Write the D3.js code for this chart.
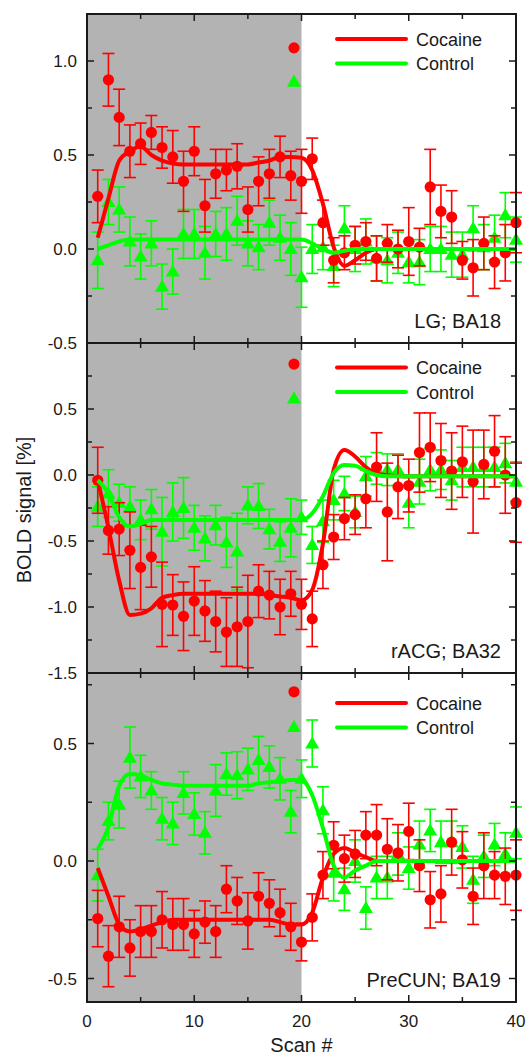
<!DOCTYPE html>
<html><head><meta charset="utf-8">
<script src="https://cdn.jsdelivr.net/npm/d3@7"></script>
<style>
html,body{margin:0;padding:0;background:#fff;}
svg{display:block;font-family:"Liberation Sans",Arial,Helvetica,sans-serif;}
</style></head>
<body><svg id="chart" width="529" height="1057"></svg>
<script>
// ---------- data ----------
const scans = d3.range(1, 41);
const xTicksMajor = [0, 10, 20, 30, 40];
const xTicksMinor = [5, 15, 25, 35];
const stimulusEnd = 20;
const seriesNames = ["Cocaine", "Control"];
const panelNames = ["LG; BA18", "rACG; BA32", "PreCUN; BA19"];
const yDomains = [[-0.5, 1.25], [-1.5, 1.0], [-0.6, 0.8]];
const yTickLabels = [[-0.5, 0.0, 0.5, 1.0], [-1.5, -1.0, -0.5, 0.0, 0.5], [-0.5, 0.0, 0.5]];

// Panel 1: LG; BA18
const p1Cocaine = [0.28,0.90,0.70,0.52,0.56,0.62,0.54,0.49,0.36,0.52,0.23,0.40,0.42,0.44,0.21,0.36,0.40,0.49,0.39,0.36,
  0.48,0.14,-0.06,-0.02,0.02,0.04,-0.05,0.03,0.00,0.04,0.01,0.33,0.20,0.17,-0.06,-0.10,0.03,-0.07,-0.02,0.14];
const p1CocaineErr = [0.14,0.14,0.15,0.14,0.11,0.09,0.11,0.14,0.16,0.13,0.14,0.13,0.11,0.12,0.12,0.13,0.13,0.11,0.13,0.17,
  0.11,0.12,0.12,0.09,0.10,0.10,0.12,0.10,0.10,0.18,0.10,0.20,0.14,0.14,0.10,0.15,0.14,0.14,0.15,0.16];
const p1Control = [-0.06,0.25,0.21,0.04,-0.04,0.03,-0.20,-0.12,0.08,0.08,-0.02,0.08,0.08,0.15,0.03,0.01,0.14,0.06,0.00,-0.15,
  0.00,0.01,-0.09,0.11,0.00,0.04,-0.05,-0.06,-0.02,-0.07,-0.07,0.00,0.00,-0.03,-0.03,0.11,0.01,0.06,0.18,0.05];
const p1ControlErr = [0.15,0.12,0.12,0.13,0.12,0.12,0.12,0.12,0.13,0.13,0.14,0.12,0.14,0.13,0.12,0.12,0.12,0.12,0.14,0.16,
  0.13,0.12,0.11,0.12,0.12,0.12,0.12,0.12,0.11,0.11,0.12,0.12,0.12,0.12,0.12,0.12,0.12,0.12,0.12,0.12];
const p1CocaineFit = [0.06,0.27,0.47,0.52,0.545,0.50,0.47,0.455,0.45,0.45,0.45,0.45,0.45,0.45,0.45,0.46,0.47,0.49,0.49,0.485,
  0.42,0.24,0.01,-0.09,-0.06,-0.02,0.0,0.0,0.0,0.0,0.0,0.0,0.0,0.0,0.0,0.0,0.0,0.0,0.0,0.0];
const p1ControlFit = [0.0,0.02,0.04,0.05,0.05,0.05,0.05,0.05,0.05,0.05,0.05,0.05,0.05,0.05,0.05,0.05,0.05,0.05,0.05,0.05,
  0.03,0.0,-0.02,-0.01,0.0,0.0,0.0,0.0,0.0,0.0,0.0,0.0,0.0,0.0,0.0,0.0,0.0,0.0,0.0,0.0];

// Panel 2: rACG; BA32
const p2Cocaine = [-0.04,-0.42,-0.41,-0.57,-0.70,-0.62,-0.98,-0.985,-1.07,-0.955,-1.03,-1.11,-1.19,-1.15,-1.11,-0.88,-0.91,-1.00,-0.90,-0.98,
  -1.09,-0.68,-0.47,-0.33,-0.30,-0.18,0.06,-0.28,-0.09,-0.08,0.17,0.21,0.11,0.03,0.10,-0.05,0.08,0.18,0.00,-0.21];
const p2CocaineErr = [0.25,0.18,0.20,0.29,0.32,0.23,0.32,0.23,0.26,0.26,0.23,0.23,0.26,0.30,0.35,0.20,0.18,0.21,0.17,0.19,
  0.21,0.18,0.17,0.16,0.15,0.22,0.26,0.37,0.24,0.20,0.30,0.26,0.28,0.29,0.27,0.39,0.26,0.27,0.29,0.30];
const p2Control = [-0.24,-0.14,-0.21,-0.24,-0.34,-0.26,-0.43,-0.28,-0.25,-0.40,-0.48,-0.38,-0.51,-0.58,-0.23,-0.235,-0.41,-0.505,-0.40,-0.32,
  -0.53,-0.35,-0.19,-0.14,-0.28,-0.01,0.05,0.04,0.04,-0.21,-0.05,0.04,0.04,-0.04,0.06,0.06,0.06,0.06,0.09,-0.05];
const p2ControlErr = [0.15,0.18,0.14,0.15,0.15,0.15,0.26,0.22,0.23,0.17,0.17,0.15,0.19,0.29,0.14,0.17,0.15,0.15,0.22,0.13,
  0.14,0.16,0.15,0.13,0.12,0.15,0.12,0.12,0.12,0.19,0.17,0.16,0.15,0.15,0.15,0.15,0.15,0.15,0.15,0.15];
const p2CocaineFit = [-0.04,-0.40,-0.80,-1.06,-1.05,-1.01,-0.93,-0.91,-0.90,-0.90,-0.90,-0.90,-0.90,-0.90,-0.90,-0.90,-0.91,-0.92,-0.93,-0.95,
  -0.87,-0.52,0.04,0.19,0.14,0.06,0.01,0.0,-0.01,-0.01,-0.01,-0.01,-0.01,-0.01,-0.01,-0.01,-0.01,-0.01,-0.01,-0.01];
const p2ControlFit = [-0.04,-0.14,-0.32,-0.39,-0.37,-0.34,-0.34,-0.34,-0.34,-0.34,-0.34,-0.34,-0.34,-0.34,-0.34,-0.34,-0.34,-0.34,-0.34,-0.34,
  -0.29,-0.16,0.015,0.075,0.07,0.03,0.0,-0.01,-0.01,-0.01,-0.01,-0.01,-0.01,-0.01,-0.01,-0.01,-0.01,-0.01,-0.01,-0.01];

// Panel 3: PreCUN; BA19
const p3Cocaine = [-0.245,-0.405,-0.28,-0.37,-0.30,-0.30,-0.25,-0.27,-0.27,-0.31,-0.26,-0.30,-0.12,-0.17,-0.255,-0.15,-0.18,-0.22,-0.28,-0.345,
  -0.24,-0.06,0.067,0.01,0.03,0.11,0.11,0.05,0.035,0.126,-0.02,-0.165,-0.14,0.08,0.005,-0.15,-0.02,-0.06,-0.065,-0.06];
const p3CocaineErr = [0.12,0.13,0.13,0.12,0.11,0.11,0.12,0.11,0.11,0.10,0.09,0.11,0.10,0.10,0.12,0.10,0.10,0.10,0.10,0.08,
  0.10,0.10,0.10,0.10,0.10,0.10,0.13,0.13,0.12,0.12,0.11,0.12,0.12,0.14,0.12,0.12,0.14,0.10,0.12,0.15];
const p3Control = [-0.06,0.17,0.24,0.44,0.36,0.30,0.18,0.16,0.29,0.20,0.12,0.30,0.37,0.365,0.39,0.43,0.40,0.35,0.21,0.35,
  0.50,0.216,-0.05,-0.12,0.0,-0.20,-0.07,-0.07,0.03,-0.03,0.07,0.13,0.08,0.08,0.06,-0.08,0.02,0.07,0.03,0.12];
const p3ControlErr = [0.11,0.08,0.10,0.13,0.09,0.08,0.09,0.09,0.09,0.09,0.09,0.11,0.09,0.10,0.09,0.10,0.09,0.09,0.09,0.08,
  0.10,0.10,0.12,0.09,0.09,0.09,0.09,0.09,0.09,0.09,0.10,0.09,0.09,0.09,0.09,0.10,0.09,0.09,0.09,0.11];
const p3CocaineFit = [-0.03,-0.15,-0.27,-0.30,-0.29,-0.275,-0.26,-0.25,-0.25,-0.25,-0.25,-0.25,-0.25,-0.25,-0.25,-0.25,-0.25,-0.26,-0.27,-0.27,
  -0.22,-0.07,0.03,0.055,0.035,0.017,0.0,0.0,0.0,0.0,0.0,0.0,0.0,0.0,0.0,0.0,0.0,0.0,0.0,0.0];
const p3ControlFit = [0.05,0.145,0.32,0.37,0.365,0.345,0.33,0.325,0.32,0.32,0.32,0.32,0.32,0.32,0.32,0.33,0.335,0.34,0.345,0.345,
  0.28,0.14,-0.02,-0.07,-0.04,-0.02,0.0,0.0,0.0,0.0,0.0,0.0,0.0,0.0,0.0,0.0,0.0,0.0,0.0,0.0];

// legend marker positions (x scan, y value) per panel
const legendMarkerX = 19.3;
const legendMarkerCocaine = [1.07, 0.84, 0.72];
const legendMarkerControl = [0.89, 0.58, 0.57];

// ---------- layout ----------
const RED = "#ff0000", GREEN = "#00ff00", GRAY = "#b3b3b3", INK = "#1a1a1a";
const left = 87, right = 516;
const panelTops = [14, 343, 673], panelBottoms = [343, 673, 1002];
const legendOffsets = [25, 24.5, 30];

const svg = d3.select("#chart");
const x = d3.scaleLinear().domain([0, 40]).range([left, right]);

const panels = [
  {coc: p1Cocaine, cocE: p1CocaineErr, con: p1Control, conE: p1ControlErr, cocF: p1CocaineFit, conF: p1ControlFit},
  {coc: p2Cocaine, cocE: p2CocaineErr, con: p2Control, conE: p2ControlErr, cocF: p2CocaineFit, conF: p2ControlFit},
  {coc: p3Cocaine, cocE: p3CocaineErr, con: p3Control, conE: p3ControlErr, cocF: p3CocaineFit, conF: p3ControlFit}
];

panels.forEach((p, i) => {
  const top = panelTops[i], bottom = panelBottoms[i];
  const y = d3.scaleLinear().domain(yDomains[i]).range([bottom, top]);
  const g = svg.append("g");

  // shaded stimulus period
  g.append("rect").attr("x", x(0)).attr("y", top).attr("width", x(stimulusEnd) - x(0))
    .attr("height", bottom - top).attr("fill", GRAY);

  function drawSeries(vals, errs, color, isTri) {
    const sg = g.append("g");
    scans.forEach((s, k) => {
      const cx = x(s), v = vals[k], e = errs[k];
      sg.append("line").attr("x1", cx).attr("x2", cx).attr("y1", y(v - e)).attr("y2", y(v + e))
        .attr("stroke", color).attr("stroke-width", 1.6);
      [v - e, v + e].forEach(t => sg.append("line").attr("x1", cx - 6).attr("x2", cx + 6)
        .attr("y1", y(t)).attr("y2", y(t)).attr("stroke", color).attr("stroke-width", 1.6));
    });
    if (isTri) {
      sg.selectAll("path.m").data(scans).join("path")
        .attr("d", d3.symbol(d3.symbolTriangle, 85)())
        .attr("transform", (s, k) => `translate(${x(s)},${y(vals[k]) + 1})`).attr("fill", color);
    } else {
      sg.selectAll("circle").data(scans).join("circle")
        .attr("cx", s => x(s)).attr("cy", (s, k) => y(vals[k])).attr("r", 5.6).attr("fill", color);
    }
  }
  drawSeries(p.con, p.conE, GREEN, true);
  drawSeries(p.coc, p.cocE, RED, false);

  const line = d3.line().x((d, k) => x(scans[k])).y(d => y(d)).curve(d3.curveMonotoneX);
  g.append("path").attr("d", line(p.cocF)).attr("fill", "none").attr("stroke", RED)
    .attr("stroke-width", 4).attr("stroke-linejoin", "round");
  g.append("path").attr("d", line(p.conF)).attr("fill", "none").attr("stroke", GREEN)
    .attr("stroke-width", 4).attr("stroke-linejoin", "round");

  // legend markers (placed inside plot)
  g.append("circle").attr("cx", x(legendMarkerX)).attr("cy", y(legendMarkerCocaine[i])).attr("r", 5.6).attr("fill", RED);
  g.append("path").attr("d", d3.symbol(d3.symbolTriangle, 85)())
    .attr("transform", `translate(${x(legendMarkerX)},${y(legendMarkerControl[i]) + 1})`).attr("fill", GREEN);

  // legend lines + text
  const ly = top + legendOffsets[i];
  [RED, GREEN].forEach((c, k) => {
    g.append("line").attr("x1", 337).attr("x2", 406).attr("y1", ly + k * 24.5).attr("y2", ly + k * 24.5)
      .attr("stroke", c).attr("stroke-width", 4).attr("stroke-linecap", "round");
    g.append("text").attr("x", 416).attr("y", ly + k * 24.5 + 6.5).attr("font-size", 18).attr("fill", INK)
      .text(seriesNames[k]);
  });

  // panel label
  g.append("text").attr("x", 501).attr("y", bottom - 15).attr("text-anchor", "end")
    .attr("font-size", 20).attr("fill", INK).text(panelNames[i]);

  // frame
  g.append("rect").attr("x", left).attr("y", top).attr("width", right - left).attr("height", bottom - top)
    .attr("fill", "none").attr("stroke", INK).attr("stroke-width", 2);

  // y ticks (inward, both sides)
  const yMinor = d3.range(Math.ceil(yDomains[i][0] / 0.25) * 0.25, yDomains[i][1] + 1e-9, 0.25);
  yMinor.forEach(v => {
    const major = yTickLabels[i].some(t => Math.abs(t - v) < 1e-6);
    const len = major ? 7 : 5;
    g.append("line").attr("x1", left).attr("x2", left + len).attr("y1", y(v)).attr("y2", y(v)).attr("stroke", INK).attr("stroke-width", 1.5);
    g.append("line").attr("x1", right).attr("x2", right - len).attr("y1", y(v)).attr("y2", y(v)).attr("stroke", INK).attr("stroke-width", 1.5);
  });
  yTickLabels[i].forEach(v => {
    g.append("text").attr("x", left - 10).attr("y", y(v) + 6).attr("text-anchor", "end")
      .attr("font-size", 17).attr("fill", INK).text(d3.format(".1f")(v).replace("−", "-"));
  });

  // x ticks (inward, top and bottom)
  xTicksMajor.concat(xTicksMinor).forEach(v => {
    const len = xTicksMajor.includes(v) ? 7 : 5;
    g.append("line").attr("x1", x(v)).attr("x2", x(v)).attr("y1", top).attr("y2", top + len).attr("stroke", INK).attr("stroke-width", 1.5);
    g.append("line").attr("x1", x(v)).attr("x2", x(v)).attr("y1", bottom).attr("y2", bottom - len).attr("stroke", INK).attr("stroke-width", 1.5);
  });
});

// x tick labels
xTicksMajor.forEach(v => {
  svg.append("text").attr("x", x(v)).attr("y", 1027).attr("text-anchor", "middle")
    .attr("font-size", 17).attr("fill", INK).text(v);
});
svg.append("text").attr("x", x(20)).attr("y", 1052).attr("text-anchor", "middle")
  .attr("font-size", 20).attr("fill", INK).text("Scan #");
svg.append("text").attr("transform", "translate(31,510) rotate(-90)").attr("text-anchor", "middle")
  .attr("font-size", 20).attr("fill", INK).text("BOLD signal [%]");
</script></body></html>
